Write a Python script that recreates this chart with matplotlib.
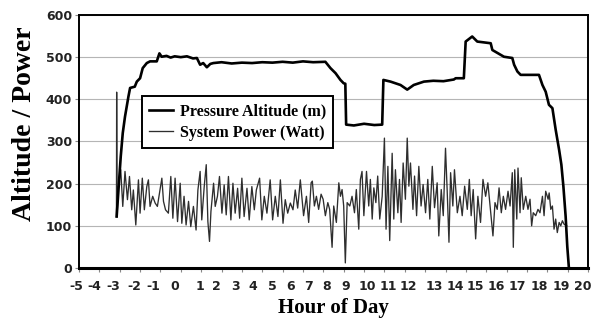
import matplotlib
matplotlib.use('Agg')
import matplotlib.pyplot as plt
from matplotlib.ticker import MultipleLocator, NullLocator

# --- Data: pressure altitude (m) over the day ---
alt_hour = [-3.15, -2.95, -2.85, -2.74, -2.57, -2.49, -2.26, -2.16, -2.0, -1.87,
            -1.67, -1.51, -1.18, -1.05, -0.94, -0.7, -0.5, -0.3, 0.0, 0.3,
            0.6, 0.79, 0.95, 1.1, 1.28, 1.45, 1.6, 2.0, 2.5, 3.0,
            3.5, 4.0, 4.5, 5.0, 5.5, 6.0, 6.5, 7.1, 7.35, 7.6,
            7.84, 8.0, 8.08, 8.12, 8.5, 9.0, 9.5, 9.89, 9.95, 10.3,
            10.79, 11.12, 11.44, 11.94, 12.4, 12.9, 13.41, 13.5, 13.9, 13.99,
            14.31, 14.56, 15.22, 15.3, 15.87, 16.28, 16.37, 16.53, 16.69, 17.59,
            17.76, 17.92, 18.08, 18.25, 18.41, 18.58, 18.69, 18.79, 18.9, 18.98,
            19.06]
alt_value = [122, 264, 320, 359, 407, 427, 430, 442, 450, 474,
             486, 490, 490, 509, 501, 503, 499, 502, 500, 502,
             497, 498, 482, 486, 476, 484, 486, 488, 485, 487,
             486, 488, 487, 489, 487, 490, 488, 489, 474, 462,
             446, 438, 437, 340, 338, 342, 339, 340, 446, 442,
             434, 423, 434, 442, 444, 443, 447, 450, 450, 537,
             549, 537, 533, 517, 501, 498, 482, 466, 458, 458,
             434, 418, 387, 379, 328, 280, 245, 193, 122, 51,
             0]

# --- Data: system power (W) over the day ---
pwr_hour = [-3.16, -3.15, -3.13, -3.07, -2.95, -2.85, -2.74, -2.62, -2.52, -2.41,
            -2.33, -2.21, -2.08, -2.0, -1.89, -1.79, -1.67, -1.59, -1.51, -1.38,
            -1.26, -1.15, -1.02, -0.93, -0.85, -0.75, -0.61, -0.49, -0.39, -0.28,
            -0.16, -0.03, 0.05, 0.16, 0.26, 0.38, 0.49, 0.62, 0.75, 0.84,
            0.95, 1.03, 1.15, 1.25, 1.33, 1.41, 1.48, 1.61, 1.69, 1.80,
            1.90, 2.02, 2.13, 2.23, 2.34, 2.46, 2.56, 2.67, 2.79, 2.89,
            3.00, 3.11, 3.25, 3.36, 3.49, 3.61, 3.71, 3.87, 3.98, 4.10,
            4.23, 4.39, 4.51, 4.64, 4.77, 4.89, 5.02, 5.13, 5.25, 5.38,
            5.51, 5.62, 5.74, 5.87, 6.03, 6.17, 6.28, 6.40, 6.46, 6.56,
            6.66, 6.77, 6.89, 6.99, 7.10, 7.22, 7.31, 7.43, 7.51, 7.64,
            7.76, 7.84, 7.92, 8.00, 8.08, 8.17, 8.30, 8.41, 8.53, 8.62,
            8.74, 8.82, 8.90, 8.99, 9.12, 9.23, 9.31, 9.40, 9.48, 9.58,
            9.67, 9.77, 9.89, 10.00, 10.08, 10.17, 10.26, 10.38, 10.46, 10.54,
            10.66, 10.74, 10.82, 10.92, 11.03, 11.12, 11.20, 11.28, 11.40, 11.48,
            11.58, 11.69, 11.80, 11.90, 12.02, 12.13, 12.23, 12.35, 12.46, 12.59,
            12.67, 12.79, 12.89, 13.00, 13.08, 13.17, 13.25, 13.36, 13.44, 13.58,
            13.71, 13.82, 13.94, 14.07, 14.17, 14.26, 14.36, 14.48, 14.59, 14.72,
            14.84, 14.97, 15.08, 15.22, 15.33, 15.43, 15.54, 15.63, 15.74, 15.84,
            15.95, 16.07, 16.17, 16.28, 16.33, 16.40, 16.50, 16.56, 16.66, 16.72,
            16.82, 16.94, 17.05, 17.15, 17.23, 17.31, 17.43, 17.54, 17.64, 17.76,
            17.84, 17.92, 18.04, 18.09, 18.17, 18.25, 18.33, 18.41, 18.49, 18.58,
            18.66, 18.74, 18.82, 18.95]
pwr_value = [122, 417, 122, 190, 233, 146, 229, 162, 217, 138,
             185, 102, 209, 130, 213, 138, 193, 209, 146, 170,
             154, 146, 185, 213, 158, 138, 130, 217, 118, 213,
             110, 201, 106, 170, 102, 158, 98, 146, 90, 185,
             229, 114, 193, 245, 110, 63, 134, 201, 146, 170,
             217, 130, 197, 126, 217, 114, 201, 130, 189, 118,
             213, 122, 189, 114, 193, 138, 185, 213, 114, 170,
             130, 209, 114, 170, 122, 209, 106, 162, 130, 154,
             138, 185, 142, 209, 124, 170, 108, 202, 206, 147,
             170, 139, 175, 163, 124, 155, 139, 49, 147, 108,
             202, 170, 186, 147, 12, 155, 147, 170, 131, 186,
             92, 210, 229, 124, 229, 147, 210, 116, 190, 155,
             218, 116, 170, 308, 92, 241, 65, 272, 116, 233,
             131, 210, 108, 249, 163, 308, 194, 249, 139, 218,
             124, 241, 147, 198, 131, 210, 116, 241, 143, 202,
             76, 186, 124, 284, 186, 61, 226, 147, 233, 131,
             170, 124, 194, 139, 210, 124, 186, 69, 170, 108,
             210, 170, 202, 131, 76, 155, 139, 190, 131, 170,
             139, 182, 147, 226, 49, 233, 116, 237, 131, 214,
             139, 170, 139, 163, 100, 131, 124, 139, 131, 170,
             124, 182, 163, 178, 139, 147, 92, 116, 84, 108,
             100, 112, 104, 100]

# Hour labels along the x axis and where they sit
hour_labels = [str(h) for h in range(-5, 21)]
label_pos = [-5.11, -4.26, -3.33, -2.29, -1.36, -0.28, 0.95, 1.74, 2.67, 3.56,
             4.48, 5.38, 6.26, 7.18, 8.08, 9.17, 10.2, 11.18, 12.43, 13.49,
             14.48, 15.51, 16.53, 17.59, 18.66, 19.73]

serif = 'Liberation Serif'

fig = plt.figure(figsize=(5.97, 3.26), dpi=100)
ax = fig.add_axes([0.1323, 0.178, 0.8527, 0.776])

ax.plot(alt_hour, alt_value, color='black', linewidth=1.9,
        label='Pressure Altitude (m)', zorder=3)
ax.plot(pwr_hour, pwr_value, color='#2e2e2e', linewidth=0.95,
        label='System Power (Watt)', zorder=2)

ax.set_xlim(-5, 20)
ax.set_ylim(0, 600)

# y axis: ticks every 100 with light horizontal grid
ax.yaxis.set_major_locator(MultipleLocator(100))
ax.grid(axis='y', color='#b5b5b5', linewidth=0.8)
ax.set_axisbelow(True)
ax.tick_params(axis='y', length=3, width=0.8, color='#888888', pad=2,
               labelsize=9)
for lbl in ax.get_yticklabels():
    lbl.set_fontweight('bold')
    lbl.set_color('#222222')

# x axis: tick marks every hour, hour labels written below
ax.xaxis.set_major_locator(NullLocator())
ax.xaxis.set_minor_locator(MultipleLocator(1))
ax.tick_params(axis='x', which='minor', length=3, width=0.8, color='#888888')
for pos, text in zip(label_pos, hour_labels):
    ax.text(pos, -0.075, text, transform=ax.get_xaxis_transform(),
            ha='center', va='center', fontsize=9, fontweight='bold',
            color='#222222', clip_on=False)

for side in ['left', 'top', 'right']:
    ax.spines[side].set_linewidth(1.4)
ax.spines['bottom'].set_linewidth(2.2)

ax.set_xlabel('Hour of Day', fontfamily=serif, fontweight='bold',
              fontsize=15, labelpad=15)
ax.set_ylabel('Altitude / Power', fontfamily=serif, fontweight='bold',
              fontsize=20)
ax.yaxis.set_label_coords(-0.082, 0.569)

leg = ax.legend(loc='upper left', bbox_to_anchor=(0.124, 0.68),
                borderaxespad=0, fancybox=False, framealpha=1,
                edgecolor='black', handlelength=1.5, handletextpad=0.4,
                labelspacing=0.35, borderpad=0.45,
                prop={'family': serif, 'weight': 'bold', 'size': 11.5})
leg.get_frame().set_linewidth(1.4)

plt.savefig('out.png', dpi=100)
plt.close()
